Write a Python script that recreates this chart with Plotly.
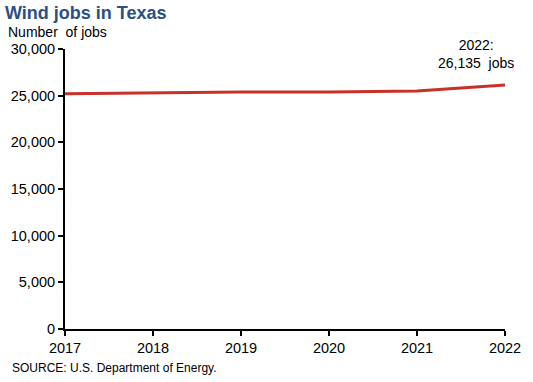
import plotly.graph_objects as go

years = [2017, 2018, 2019, 2020, 2021, 2022]
jobs = [25200, 25300, 25400, 25400, 25500, 26135]
y_ticks = [0, 5000, 10000, 15000, 20000, 25000, 30000]
y_labels = ["0", "5,000", "10,000", "15,000", "20,000", "25,000", "30,000"]

font = "Liberation Sans, Arial, sans-serif"

# plot area in page pixels
PL, PT, PW, PH = 65, 49, 440, 280
W, H = 533, 382
l, t = PL, PT
r = W - l - PW
b = H - t - PH


def px(x, y):
    return dict(xref="paper", yref="paper", x=(x - PL) / PW, y=1 - (y - PT) / PH)


fig = go.Figure()
fig.add_trace(go.Scatter(x=years, y=jobs, mode="lines",
                         line=dict(color="#C8302A", width=3), hoverinfo="skip"))

axis_common = dict(showgrid=False, zeroline=False, showline=True, linecolor="black",
                   linewidth=2, ticks="outside", ticklen=5, tickcolor="black",
                   tickwidth=1.5, tickfont=dict(size=14.5, color="black", family=font))

fig.update_layout(
    width=W, height=H,
    margin=dict(l=l, r=r, t=t, b=b, autoexpand=False),
    paper_bgcolor="white", plot_bgcolor="white",
    showlegend=False,
    font=dict(family=font, size=14, color="black"),
    xaxis=dict(range=[2017, 2022], tickvals=years, ticktext=[str(y) for y in years],
               **axis_common),
    yaxis=dict(range=[0, 30000], tickvals=y_ticks, ticktext=y_labels, **axis_common),
    annotations=[
        dict(text="<b>Wind jobs in Texas</b>", showarrow=False,
             font=dict(size=18, color="#2B5085", family=font),
             xanchor="left", yanchor="middle", **px(3, 13)),
        dict(text="Number  of jobs", showarrow=False,
             font=dict(size=14, color="black", family=font),
             xanchor="left", yanchor="middle", **px(6, 32)),
        dict(text="2022:<br>26,135  jobs", showarrow=False, align="center",
             font=dict(size=14, color="black", family=font),
             xanchor="center", yanchor="middle", **px(476, 54)),
        dict(text="SOURCE: U.S. Department of Energy.", showarrow=False,
             font=dict(size=12, color="black", family=font),
             xanchor="left", yanchor="middle", **px(10, 368)),
    ],
)

fig.write_html("out.html",
               config={"displayModeBar": False},
               post_script="document.body.style.margin='0';document.body.style.padding='0';")
